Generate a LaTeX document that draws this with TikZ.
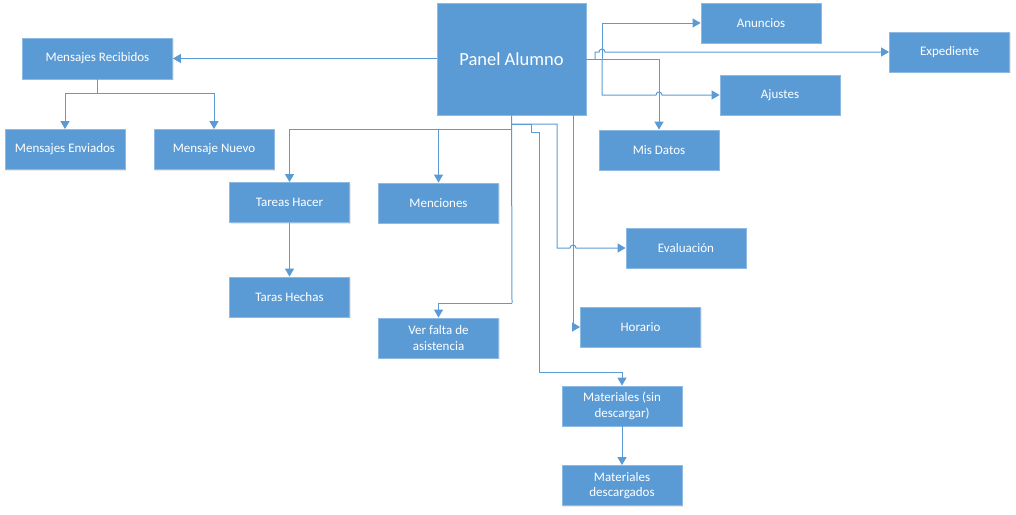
\documentclass[tikz,border=0pt]{standalone}
\usepackage{fontspec}
\setmainfont{Carlito}
\usetikzlibrary{calc,arrows.meta,shadows}
\definecolor{boxblue}{HTML}{5B9BD5}
\definecolor{boxedge}{HTML}{8DB9E3}
\definecolor{lineblue}{HTML}{5B9BD5}

\begin{document}
\begin{tikzpicture}[x=1pt,y=-1pt,
  box/.style={fill=boxblue,draw=boxedge,line width=0.8pt,text=white,minimum width=120pt,minimum height=40pt,inner sep=1pt,align=center,font=\fontsize{13}{15.5}\selectfont,drop shadow={opacity=0.18,shadow xshift=1pt,shadow yshift=-1pt}},
  arr/.style={draw=lineblue,line width=1pt,-{Triangle[length=8pt,width=9pt]}},
  hop/.style={draw=lineblue,line width=1pt}]
\useasboundingbox (0,0) rectangle (1016,514);
  \node (panel) at (511.5,59) [box,minimum width=149pt,minimum height=112pt,font=\fontsize{18.5}{22}\selectfont] {Panel Alumno};
  \node (anuncios) at (761,23) [box] {Anuncios};
  \node (expediente) at (949.5,52) [box] {Expediente};
  \node (ajustes) at (780,95) [box] {Ajustes};
  \node (misdatos) at (659,150) [box] {Mis Datos};
  \node (recibidos) at (97.5,58.5) [box,minimum width=150pt,minimum height=41pt] {Mensajes Recibidos};
  \node (enviados) at (65,149.5) [box] {Mensajes Enviados};
  \node (nuevo) at (214,149.5) [box] {Mensaje Nuevo};
  \node (tareas) at (289.5,202.5) [box] {Tareas Hacer};
  \node (menciones) at (438.5,203) [box] {Menciones};
  \node (hechas) at (289.5,297) [box] {Taras Hechas};
  \node (falta) at (438.5,338) [box] {Ver falta de\\asistencia};
  \node (evaluacion) at (686,248) [box] {Evaluación};
  \node (horario) at (640.5,327) [box] {Horario};
  \node (matsin) at (622,406) [box] {Materiales (sin\\descargar)};
  \node (matdes) at (622,485.5) [box] {Materiales\\descargados};
  \coordinate (r0) at (595,59);
  \coordinate (r1) at (602,59);
  \coordinate (t1) at (512,129);
  \coordinate (t2) at (512,303);
  \coordinate (t3) at (512,124);
  \coordinate (e1) at (557,124);
  \coordinate (hv) at (573,115);
  \coordinate (m1) at (531,124);
  \coordinate (m2) at (539,132);
  \coordinate (m3) at (539,372);
  \draw [arr] (panel.west |- recibidos.east) to (recibidos.east);
  \draw [arr] (recibidos.south) -- ++(0,14) -| (enviados.north);
  \draw [arr] (recibidos.south) -- ++(0,14) -| (nuevo.north);
  \draw [arr] (panel.east) -- (r1) |- (anuncios.west);
  \draw [arr] (r1) |- ($(misdatos.north |- ajustes.west)+(-3,0)$) arc[start angle=180,end angle=0,radius=3pt] -- (ajustes.west);
  \draw [arr] (r0) |- ($(r1 |- expediente.west)+(-3,0)$) arc[start angle=180,end angle=0,radius=3pt] -- (expediente.west);
  \draw [arr] (panel.east) -| (misdatos.north);
  \draw [hop] (panel.south) -- (t2);
  \draw [arr] (t1) -| (tareas.north);
  \draw [arr] (t1) -| (menciones.north);
  \draw [arr] (t2) -| (falta.north);
  \draw [arr] (t3) -- (e1) |- ($(hv |- evaluacion.west)+(-3,0)$) arc[start angle=180,end angle=0,radius=3pt] -- (evaluacion.west);
  \draw [arr] (hv) |- (horario.west);
  \draw [arr] (t3) -- (m1) |- (m2) -- (m3) -| (matsin.north);
  \draw [arr] (tareas) -- (hechas);
  \draw [arr] (matsin) -- (matdes);
\end{tikzpicture}
\end{document}
